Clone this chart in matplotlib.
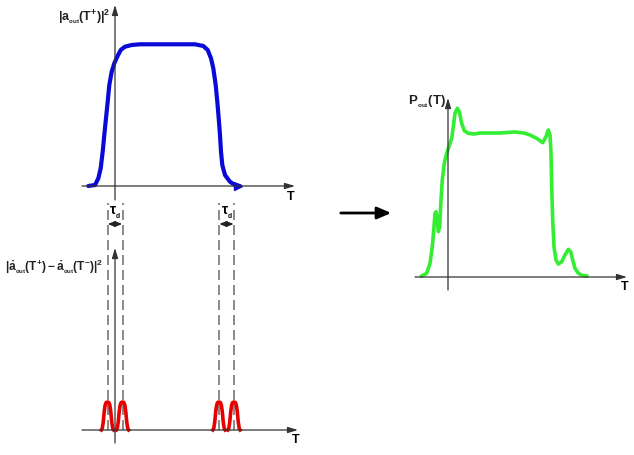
import matplotlib
matplotlib.use("Agg")
import matplotlib.pyplot as plt
from matplotlib.patches import FancyArrowPatch

# ---- data ----
# top panel: |a_out(T+)|^2 (blue)
blue_t = [-2.67, -2.0, -1.67, -1.43, -1.23, -1.07, -0.9, -0.73, -0.57, -0.33,
          -0.07, 0.23, 0.57, 1.0, 1.67, 2.5, 8.0, 8.83, 9.27, 9.6, 9.83, 10.07,
          10.23, 10.37, 10.5, 10.6, 10.73, 11.0, 11.5, 12.0, 12.5]
blue_a = [0.0, 0.007, 0.054, 0.125, 0.242, 0.359, 0.477, 0.594, 0.711, 0.805,
          0.864, 0.911, 0.958, 0.981, 0.993, 0.998, 0.998, 0.986, 0.958, 0.899,
          0.829, 0.711, 0.594, 0.477, 0.359, 0.242, 0.148, 0.077, 0.03, 0.007, 0.0]

# bottom panel: derivative pulses (red)
pulse_centers = [-0.75, 0.75, 10.4, 11.9]
pulse_dt = [-0.62, -0.52, -0.42, -0.33, -0.24, -0.14, 0.0,
            0.14, 0.24, 0.33, 0.42, 0.52, 0.62]
pulse_p = [0.0, 0.06, 0.3, 0.65, 0.88, 0.98, 1.0,
           0.98, 0.88, 0.65, 0.3, 0.06, 0.0]
tau_pairs = [(-0.75, 0.75), (10.4, 11.9)]

# right panel: P_out(T) (green)
green_t = [-2.63, -2.13, -1.8, -1.57, -1.4, -1.3, -1.2, -1.07, -0.97, -0.83,
           -0.7, -0.57, -0.37, -0.13, 0.1, 0.37, 0.53, 0.7, 0.93, 1.13, 1.37,
           1.63, 2.03, 2.63, 3.2, 5.2, 6.7, 7.6, 8.2, 8.87, 9.47, 9.8, 10.03,
           10.2, 10.3, 10.37, 10.47, 10.6, 10.8, 11.03, 11.37, 11.7, 12.03,
           12.27, 12.47, 12.7, 13.03, 13.53, 13.87]
green_p = [0.007, 0.026, 0.095, 0.21, 0.349, 0.442, 0.453, 0.396, 0.315, 0.349,
           0.535, 0.674, 0.79, 0.859, 0.905, 0.963, 1.044, 1.137, 1.172, 1.148,
           1.067, 1.016, 0.998, 0.993, 1.0, 1.0, 1.007, 1.0, 0.986, 0.963, 0.933,
           0.974, 1.021, 0.986, 0.859, 0.627, 0.396, 0.21, 0.118, 0.09, 0.106,
           0.153, 0.192, 0.176, 0.118, 0.06, 0.026, 0.009, 0.007]

plt.rcParams['mathtext.fontset'] = 'custom'
plt.rcParams['mathtext.rm'] = 'Liberation Sans:bold'
plt.rcParams['mathtext.it'] = 'Liberation Sans:bold'
plt.rcParams['mathtext.bf'] = 'Liberation Sans:bold'
plt.rcParams['font.family'] = ['Liberation Sans', 'DejaVu Sans']

W, H = 634, 455
fig = plt.figure(figsize=(W / 100, H / 100), dpi=100)


def panel(x0, y0, x1, y1, xlim, ylim):
    # axes placed by pixel box (top-left origin)
    ax = fig.add_axes([x0 / W, 1 - y1 / H, (x1 - x0) / W, (y1 - y0) / H])
    ax.set_xlim(*xlim)
    ax.set_ylim(*ylim)
    ax.axis('off')
    return ax


def axis_arrow(ax, start, end):
    ax.annotate('', xy=end, xytext=start,
                arrowprops=dict(arrowstyle='-|>,head_length=0.6,head_width=0.18',
                                color='#333333', lw=0.9, shrinkA=0, shrinkB=0))


# top-left panel
ax1 = panel(0, 0, 310, 205, (-11.5, 19.5), (-19 / 142, 186 / 142))
axis_arrow(ax1, (-3.3, 0), (18.0, 0))
axis_arrow(ax1, (0, -0.0986), (0, 1.275))
ax1.plot(blue_t, blue_a, color='#0a0ad8', lw=3.0, solid_capstyle='round',
         solid_joinstyle='round')
ax1.plot(blue_t[-1] - 0.2, 0, marker='>', color='#0a0ad8', ms=6)
ax1.text(-5.7, 1.19, r'$|\mathrm{a}_{_{\mathrm{out}}}\mathbf{(T^{+})}|^{2}$',
         fontsize=9, ha='left', va='center', color='#222222')
ax1.text(17.6, -0.078, 'T', fontsize=9, fontweight='bold', ha='center', va='center')

# bottom-left panel
ax2 = panel(0, 195, 310, 455, (-11.5, 19.5), (-25 / 28, 235 / 28))
axis_arrow(ax2, (-3.3, 0), (18.3, 0))
axis_arrow(ax2, (0, -0.464), (0, 6.5))
for c in pulse_centers:
    ax2.plot([c, c], [0, 8.1], color='#777777', lw=1.2, dashes=(6, 3))
    ax2.plot([c + d for d in pulse_dt], pulse_p, color='#e80000', lw=2.6,
             solid_joinstyle='round')
for a, b in tau_pairs:
    ax2.annotate('', xy=(b, 7.357), xytext=(a, 7.357),
                 arrowprops=dict(arrowstyle='<|-|>,head_length=0.4,head_width=0.15',
                                 color='#222222', lw=1.2, shrinkA=0, shrinkB=0))
    ax2.text((a + b) / 2, 7.75, r'$\tau_{_{d}}$', fontsize=10, ha='center', va='center')
ax2.text(-11.0, 5.85,
         r'$|\dot{\mathrm{a}}_{_{\mathrm{out}}}\mathbf{(T^{+})} - \dot{\mathrm{a}}_{_{\mathrm{out}}}\mathbf{(T^{-})}|^{2}$',
         fontsize=8.6, ha='left', va='center', color='#222222')
ax2.text(18.1, -0.36, 'T', fontsize=9, fontweight='bold', ha='center', va='center')

# big arrow between panels
fig.patches.append(FancyArrowPatch(
    (338 / W, 1 - 213 / H), (394 / W, 1 - 213 / H), transform=fig.transFigure,
    arrowstyle='-|>,head_length=0.7,head_width=0.3', color='black', lw=2,
    mutation_scale=12))

# right panel
ax3 = panel(400, 80, 634, 300, (-4.8, 18.6), (-23 / 144, 197 / 144))
axis_arrow(ax3, (-3.3, 0), (17.9, 0))
axis_arrow(ax3, (0, -0.09), (0, 1.243))
ax3.plot(green_t, green_p, color='#33ee33', lw=2.6, solid_joinstyle='round')
ax3.text(-0.25, 1.22, r'$\mathrm{P}_{_{\mathrm{out}}}\mathbf{(T)}$',
         fontsize=9.5, ha='right', va='center', color='#222222')
ax3.text(17.7, -0.07, 'T', fontsize=9, fontweight='bold', ha='center', va='center')

fig.savefig('out.png', dpi=100, facecolor='white')
